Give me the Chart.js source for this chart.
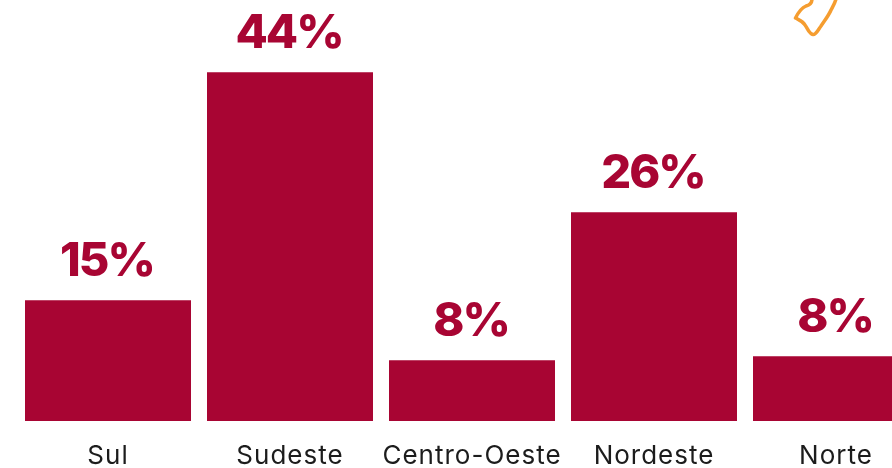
<!DOCTYPE html>
<html>
<head>
<meta charset="utf-8">
<style>
html,body{margin:0;padding:0;background:#fff;width:892px;height:468px;overflow:hidden}
#wrap{position:relative;width:892px;height:468px;overflow:hidden}
canvas{position:absolute;left:0;top:0}
svg{position:absolute;left:0;top:0}
</style>
<script src="https://cdn.jsdelivr.net/npm/chart.js@4/dist/chart.umd.min.js"></script>
</head>
<body>
<div id="wrap">
<canvas id="c" width="927" height="468" style="width:927px;height:468px"></canvas>
<svg width="892" height="468" viewBox="0 0 892 468"><path d="M812 -1C812 3 810 5 806 6C801 8 798 13 795.500 18C799 20 803 21 805 25C808 29 809 34 813 34.500C816 35 818 30 821 26C825 20 829 15 831 10C833 6 835 3 836 -1" fill="none" stroke="#F59D30" stroke-width="3.500" stroke-linecap="round" stroke-linejoin="round"/></svg>
</div>
<script>
const categories = ["Sul","Sudeste","Centro-Oeste","Nordeste","Norte"];
const shares = [15.1,43.6,7.6,26.1,8.1];
const shareLabels = ["15%","44%","8%","26%","8%"];

const spacing = {
  id:'spacing',
  beforeDraw(chart){ chart.ctx.letterSpacing = '1px'; }
};
const valueLabels = {
  id:'valueLabels',
  afterDatasetsDraw(chart){
    const ctx = chart.ctx;
    const bars = chart.getDatasetMeta(0).data;
    ctx.save();
    ctx.font = '800 47px Inter';
    ctx.letterSpacing = '-2px';
    ctx.fillStyle = '#A80533';
    ctx.textAlign = 'center';
    ctx.textBaseline = 'alphabetic';
    bars.forEach((b,i)=>ctx.fillText(shareLabels[i], b.x-1, b.y-24));
    ctx.restore();
  }
};

new Chart(document.getElementById('c'),{
  type:'bar',
  data:{labels:categories,datasets:[{data:shares,backgroundColor:'#A80533',borderWidth:0,
    categoryPercentage:166/182,barPercentage:1}]},
  plugins:[spacing,valueLabels],
  options:{
    responsive:false,animation:false,devicePixelRatio:1,
    layout:{padding:{left:17,right:0,top:0,bottom:0}},
    plugins:{legend:{display:false},tooltip:{enabled:false},title:{display:false}},
    scales:{
      x:{
        grid:{display:false},border:{display:false},
        afterFit(s){s.height=47;},
        ticks:{autoSkip:false,maxRotation:0,minRotation:0,padding:12,color:'#1c1c1c',font:{family:'Inter',size:26,weight:'400'}}
      },
      y:{display:false,min:0,max:52.625}
    }
  }
});
</script>
</body>
</html>
